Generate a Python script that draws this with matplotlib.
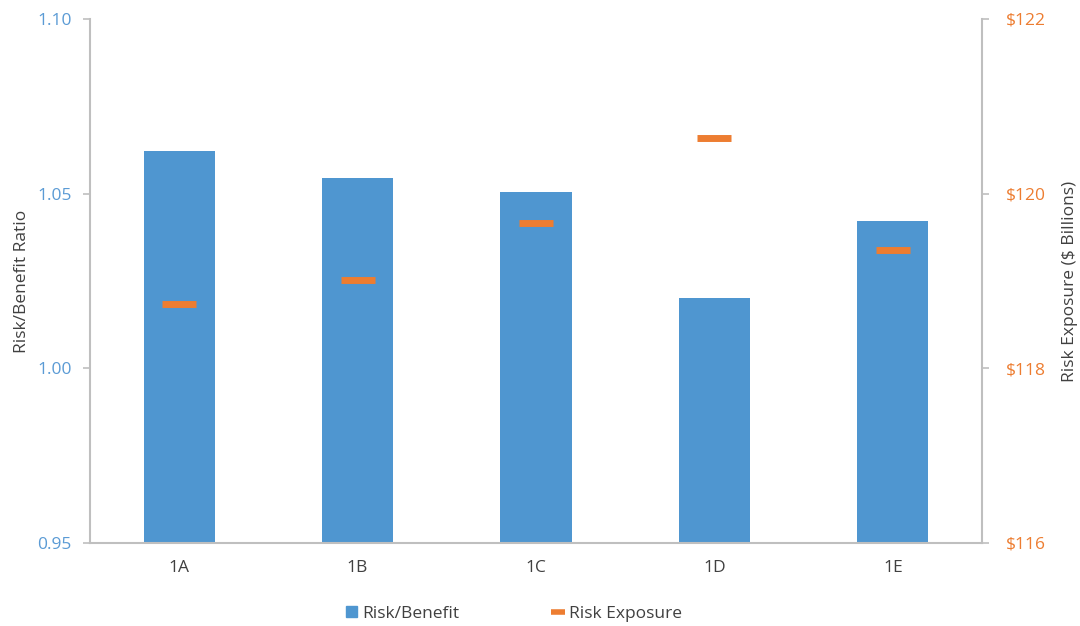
import matplotlib.pyplot as plt
import matplotlib.lines as mlines
import matplotlib.patches as mpatches

# data
categories = ['1A', '1B', '1C', '1D', '1E']
risk_benefit = [1.0623, 1.0546, 1.0506, 1.0202, 1.0421]
risk_exposure = [118.74, 119.01, 119.66, 120.64, 119.36]

blue = '#4F96D0'
orange = '#ED7D31'
grey = '#BFBFBF'
text_grey = '#404040'

plt.rcParams['font.family'] = ['Open Sans', 'DejaVu Sans']

fig = plt.figure(figsize=(10.8, 6.26), dpi=100)
ax = fig.add_axes([90/1080, 1-543/626, (982-90)/1080, (543-19)/626])

x = list(range(len(categories)))
ax.bar(x, risk_benefit, width=0.4, color=blue, zorder=2)
ax.set_xlim(-0.5, 4.5)
ax.set_ylim(0.95, 1.10)
ax.set_yticks([0.95, 1.00, 1.05, 1.10])
ax.set_yticklabels(['0.95', '1.00', '1.05', '1.10'])
ax.set_xticks(x)
ax.set_xticklabels(categories)
ax.set_ylabel('Risk/Benefit Ratio', color=text_grey, fontsize=12.5, labelpad=5)

ax2 = ax.twinx()
ax2.plot(x, risk_exposure, linestyle='none', marker='_', markersize=24.5,
         markeredgewidth=5, color=orange, zorder=3)
ax2.set_ylim(116, 122)
ax2.set_yticks([116, 118, 120, 122])
ax2.set_yticklabels(['$116', '$118', '$120', '$122'])
ax2.set_ylabel('Risk Exposure ($ Billions)', color=text_grey, fontsize=12.5, labelpad=12)

for a in (ax, ax2):
    for s in a.spines.values():
        s.set_visible(False)
    a.tick_params(length=5, width=1.2, color=grey, labelsize=12.5, pad=8)

ax.spines['left'].set_visible(True)
ax.spines['bottom'].set_visible(True)
ax2.spines['right'].set_visible(True)
for s in (ax.spines['left'], ax.spines['bottom'], ax2.spines['right']):
    s.set_color(grey)
    s.set_linewidth(1.5)

ax.tick_params(axis='y', labelcolor='#5B9BD5')
ax.tick_params(axis='x', labelcolor=text_grey, length=0, pad=12)
ax2.tick_params(axis='y', labelcolor=orange, pad=12)

handles = [
    mpatches.Patch(color=blue, label='Risk/Benefit'),
    mlines.Line2D([], [], color=orange, linestyle='none', marker='_',
                  markersize=10, markeredgewidth=4, label='Risk Exposure'),
]
leg = fig.legend(handles=handles, loc='center', bbox_to_anchor=(514/1080, 1-614/626),
                 ncol=2, frameon=False, fontsize=12.5, columnspacing=5.4,
                 handlelength=0.6, handletextpad=0.3, handleheight=0.6)
for t in leg.get_texts():
    t.set_color(text_grey)

fig.savefig('out.png', dpi=100)
